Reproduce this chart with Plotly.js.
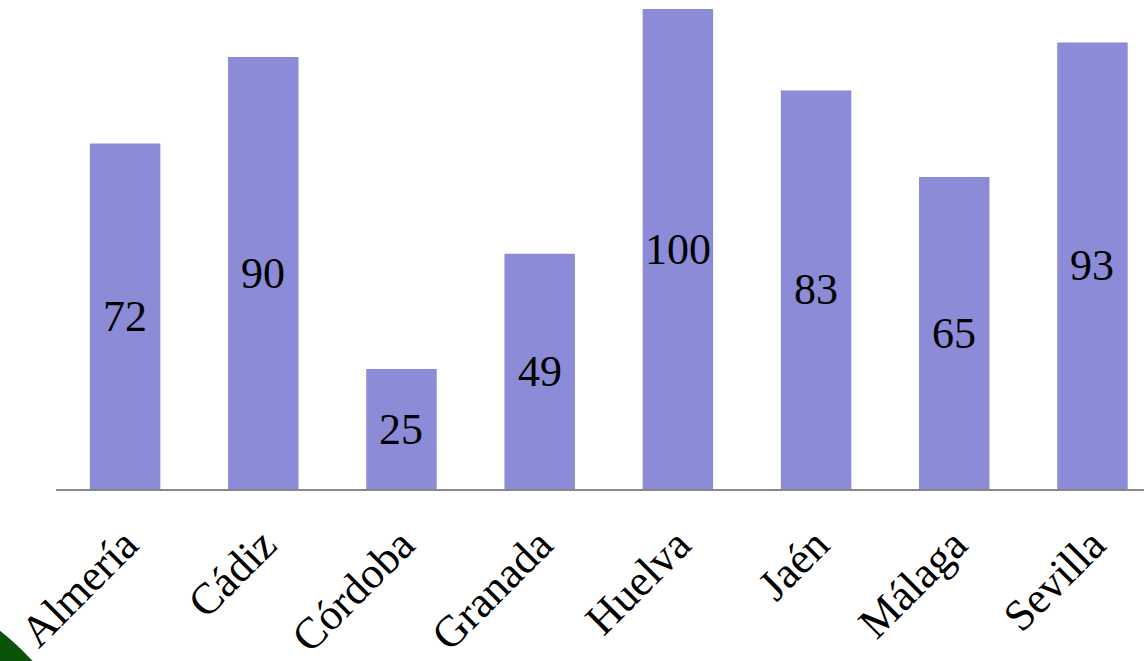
<!DOCTYPE html>
<html>
<head>
<meta charset="utf-8">
<script src="https://cdn.plot.ly/plotly-3.0.1.min.js"></script>
<style>
html,body{margin:0;padding:0;background:#fff;}
#chart{width:1144px;height:661px;}
</style>
</head>
<body>
<div id="chart"></div>
<script>
const provincias = ["Almería", "Cádiz", "Córdoba", "Granada", "Huelva", "Jaén", "Málaga", "Sevilla"];
const valores = [72, 90, 25, 49, 100, 83, 65, 93];

const serif = "Liberation Serif, Times New Roman, serif";
const trace = {
  type: "bar",
  x: provincias,
  y: valores,
  marker: {color: "#8b8bd8", line: {width: 0}},
  hoverinfo: "none"
};

const etiquetas = provincias.map((p, i) => ({
  x: p, y: valores[i] / 2, xref: "x", yref: "y",
  text: String(valores[i]), showarrow: false,
  xanchor: "center", yanchor: "middle",
  font: {family: serif, size: 44, color: "#000"}
}));

const layout = {
  width: 1144, height: 661,
  font: {family: serif, color: "#000"},
  margin: {l: 56, r: 0, t: 0, b: 172, pad: 0},
  paper_bgcolor: "#ffffff",
  plot_bgcolor: "#ffffff",
  bargap: 0.49,
  showlegend: false,
  xaxis: {
    range: [-0.5, 7.373],
    showline: true, linecolor: "#888888", linewidth: 2,
    ticks: "", tickangle: -45, ticklabelstandoff: 10,
    tickfont: {family: serif, size: 44, color: "#000"},
    showgrid: false, zeroline: false, fixedrange: true
  },
  yaxis: {
    range: [0, 101.875],
    visible: false, showgrid: false, zeroline: false, fixedrange: true
  },
  annotations: etiquetas,
  shapes: [{
    type: "path",
    xref: "paper", yref: "paper",
    path: "M -0.0515 -0.290 Q -0.037 -0.315 -0.0215 -0.3517 L -0.0515 -0.3517 Z",
    fillcolor: "#0b520a", line: {width: 0}, layer: "above"
  }]
};

Plotly.newPlot("chart", [trace], layout, {displayModeBar: false, staticPlot: true});
</script>
</body>
</html>
